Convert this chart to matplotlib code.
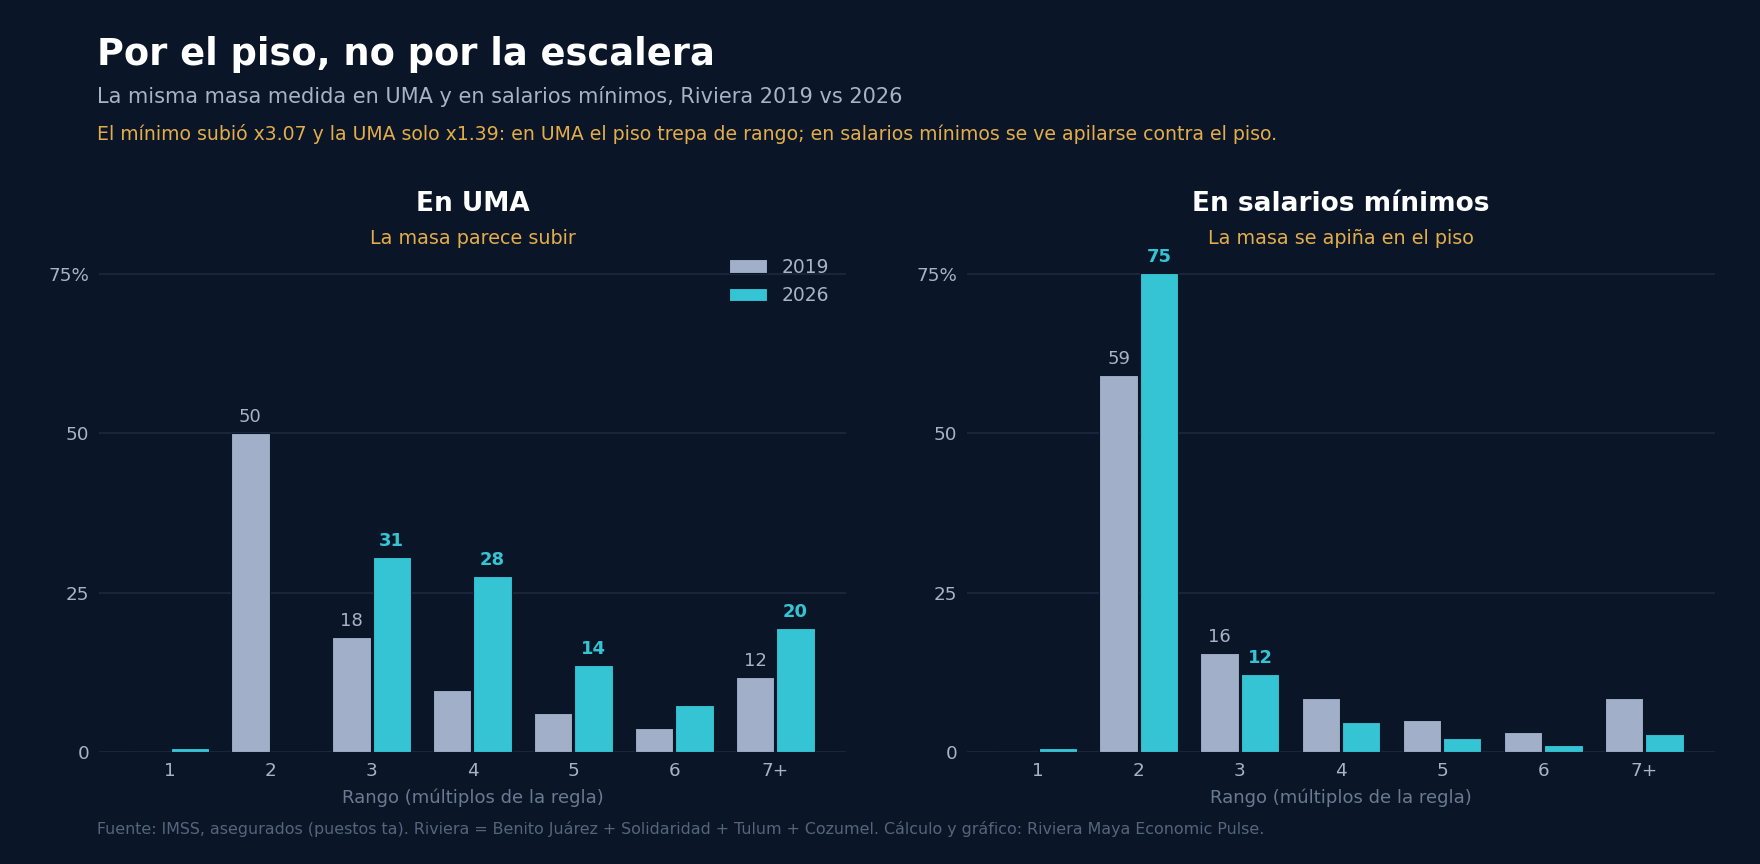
import matplotlib
matplotlib.use("Agg")
import matplotlib.pyplot as plt
import numpy as np

rangos = ["1", "2", "3", "4", "5", "6", "7+"]
uma_2019 = [0.0, 50.1, 18.1, 9.8, 6.2, 3.7, 11.8]
uma_2026 = [0.6, 0.0, 30.6, 27.6, 13.6, 7.3, 19.5]
sm_2019 = [0.0, 59.2, 15.6, 8.4, 5.0, 3.1, 8.5]
sm_2026 = [0.6, 75.2, 12.3, 4.7, 2.2, 1.1, 2.8]
label_min = 10

bg = "#0a1628"
grid_c = "#1c2940"
c2019 = "#a1b0c8"
c2026 = "#35c4d4"
orange = "#e3ad4a"
tick_c = "#a8b4c6"
dim_c = "#6b7a90"

fig = plt.figure(figsize=(17.6, 8.64), dpi=100, facecolor=bg)

fig.text(0.055, 0.937, "Por el piso, no por la escalera", color="white",
         fontsize=26.5, fontweight="bold", va="center")
fig.text(0.055, 0.888, "La misma masa medida en UMA y en salarios mínimos, Riviera 2019 vs 2026",
         color=tick_c, fontsize=15, va="center")
fig.text(0.055, 0.845, "El mínimo subió x3.07 y la UMA solo x1.39: en UMA el piso trepa de rango; "
         "en salarios mínimos se ve apilarse contra el piso.",
         color=orange, fontsize=13.6, va="center")
fig.text(0.055, 0.041, "Fuente: IMSS, asegurados (puestos ta). Riviera = Benito Juárez + Solidaridad + Tulum + Cozumel. "
         "Cálculo y gráfico: Riviera Maya Economic Pulse.",
         color="#56657b", fontsize=11.4, va="center")

panels = [
    ([0.05625, 0.1296, 0.4244, 0.5718], "En UMA", "La masa parece subir", uma_2019, uma_2026),
    ([0.5494, 0.1296, 0.4250, 0.5718], "En salarios mínimos", "La masa se apiña en el piso", sm_2019, sm_2026),
]

x = np.arange(len(rangos))
w = 0.38
for i, (pos, title, sub, v19, v26) in enumerate(panels):
    ax = fig.add_axes(pos)
    ax.set_facecolor(bg)
    ax.bar(x - 0.2, v19, w, color=c2019, edgecolor=bg, linewidth=0.8, label="2019", zorder=3)
    ax.bar(x + 0.2, v26, w, color=c2026, edgecolor=bg, linewidth=0.8, label="2026", zorder=3)
    for xi, v in zip(x, v19):
        if v >= label_min:
            ax.annotate(f"{v:.0f}", (xi - 0.2, v), xytext=(0, 5), textcoords="offset points",
                        ha="center", va="bottom", color=tick_c, fontsize=13, annotation_clip=False)
    for xi, v in zip(x, v26):
        if v >= label_min:
            ax.annotate(f"{v:.0f}", (xi + 0.2, v), xytext=(0, 5), textcoords="offset points",
                        ha="center", va="bottom", color=c2026, fontsize=13, fontweight="bold",
                        annotation_clip=False)

    ax.set_xlim(-0.7, 6.7)
    ax.set_ylim(0, 77.5)
    ax.set_xticks(x)
    ax.set_xticklabels(rangos)
    ax.set_yticks([0, 25, 50, 75])
    ax.set_yticklabels(["0", "25", "50", "75%"])
    ax.tick_params(length=0, colors=tick_c, labelsize=13.2, pad=7)
    ax.grid(axis="y", color=grid_c, linewidth=1.2, zorder=0)
    for s in ax.spines.values():
        s.set_visible(False)
    ax.set_xlabel("Rango (múltiplos de la regla)", color=dim_c, fontsize=13, labelpad=6)

    cx = pos[0] + pos[2] / 2
    fig.text(cx, 0.764, title, color="white", fontsize=19, fontweight="bold", ha="center", va="center")
    fig.text(cx, 0.724, sub, color=orange, fontsize=13.8, ha="center", va="center")

    if i == 0:
        ax.legend(loc="upper right", bbox_to_anchor=(1.0, 1.035), frameon=False,
                  fontsize=13.5, labelcolor=tick_c, handlelength=2.0)

fig.savefig("out.png", dpi=100, facecolor=bg)
